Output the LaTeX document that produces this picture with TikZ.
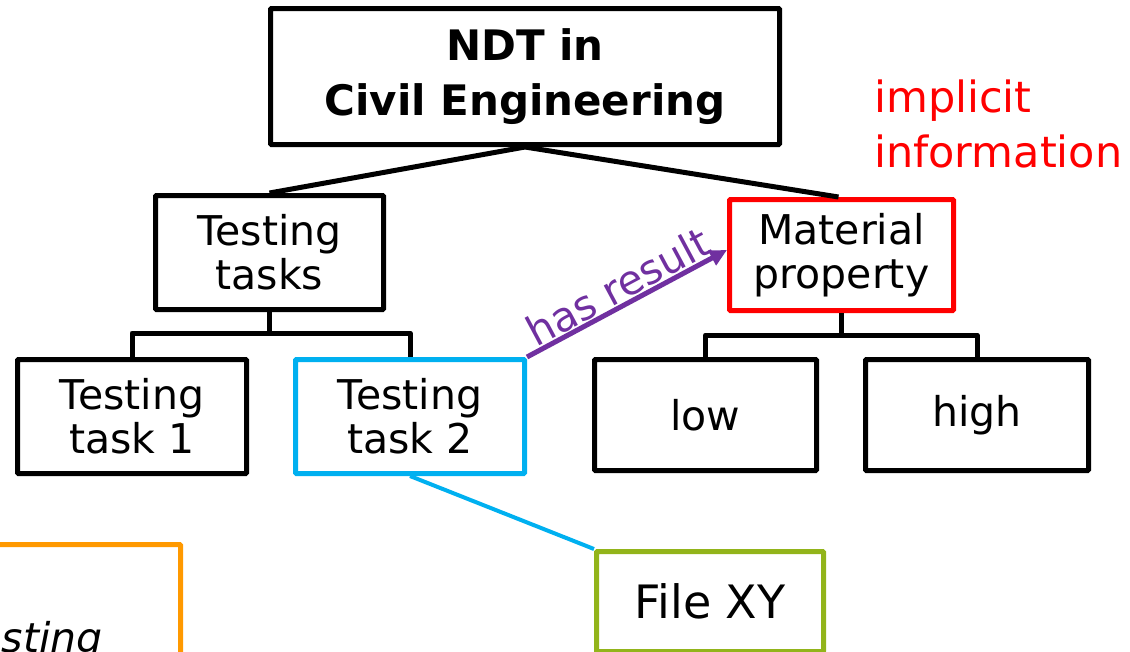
\documentclass[tikz,border=0pt]{standalone}
\usepackage{fontspec}
\setmainfont{DejaVu Sans}
\usetikzlibrary{arrows.meta,calc}
\definecolor{ndtcyan}{RGB}{0,176,240}
\definecolor{ndtred}{RGB}{255,0,0}
\definecolor{ndtpurple}{RGB}{112,48,160}
\definecolor{ndtgreen}{RGB}{146,180,26}
\definecolor{ndtorange}{RGB}{255,153,0}
\begin{document}
\begin{tikzpicture}[x=1pt,y=-1pt,
  box/.style={draw=black, line width=5pt, rounded corners=1pt, align=center,
    inner sep=0pt, font=\fontsize{41pt}{44pt}\selectfont},
  topbox/.style={box, font=\bfseries\fontsize{42pt}{55pt}\selectfont},
  tree/.style={draw=black, line width=5pt, line join=round},
  note/.style={text=ndtred, align=left, inner sep=0pt, anchor=north west,
    font=\fontsize{43pt}{55pt}\selectfont},
  rel/.style={draw=ndtpurple, line width=5pt, -{Triangle[length=17pt,width=16pt]}},
  lbl/.style={text=ndtpurple, font=\fontsize{41pt}{44pt}\selectfont, sloped, above, inner sep=1pt},
  link/.style={draw=ndtcyan, line width=4pt}]
\useasboundingbox (0,0) rectangle (1130,651);

% nodes
\node[topbox, minimum width=509pt, minimum height=136pt] (top) at (525,76.5) {NDT in\\Civil Engineering};
\node[box, minimum width=228pt, minimum height=114pt] (tasks) at (269.5,252.5) {Testing\\tasks};
\node[box, minimum width=229pt, minimum height=114pt] (tt1) at (132,416.5) {Testing\\task 1};
\node[box, draw=ndtcyan, minimum width=229pt, minimum height=114pt] (tt2) at (410,416.5) {Testing\\task 2};
\node[box, draw=ndtred, minimum width=224pt, minimum height=111pt] (mat) at (841.5,255) {Material\\property};
\node[box, minimum width=222pt, minimum height=111pt] (low) at (705.5,415) {low};
\node[box, minimum width=223pt, minimum height=111pt] (high) at (977,415) {high};
\node[box, draw=ndtgreen, minimum width=227pt, minimum height=100pt,
  font=\fontsize{46pt}{50pt}\selectfont] (file) at (710,601.5) {File XY};
\node[note] (impl) at (874,80) {implicit\\information};

% orange box (cut off by the page edge)
\node[draw=ndtorange, line width=5pt, rounded corners=1pt, minimum width=240pt,
  minimum height=150pt, inner sep=0pt] (obox) at (60.5,619.5) {};
\node[anchor=base east, inner sep=0pt, font=\itshape\fontsize{41pt}{44pt}\selectfont] (otext) at (103,652) {sting};

% tree connectors
\draw[tree] (top.south) -- (tasks.north);
\draw[tree] (top.south) -- ([xshift=-3pt]mat.north);
\coordinate (j1) at ($(tasks.south)+(0,21)$);
\draw[tree] (tasks.south) -- (j1);
\draw[tree] (tt1.north) |- (j1) -| (tt2.north);
\coordinate (j2) at ($(mat.south)+(0,22)$);
\draw[tree] (mat.south) -- (j2);
\draw[tree] (low.north) |- (j2) -| (high.north);

% relation arrow
\draw[rel] (tt2.north east) -- node[lbl] {has result} ([yshift=5pt]mat.west);

% link to file
\draw[link] (tt2.south) -- (file.north west);
\end{tikzpicture}
\end{document}
